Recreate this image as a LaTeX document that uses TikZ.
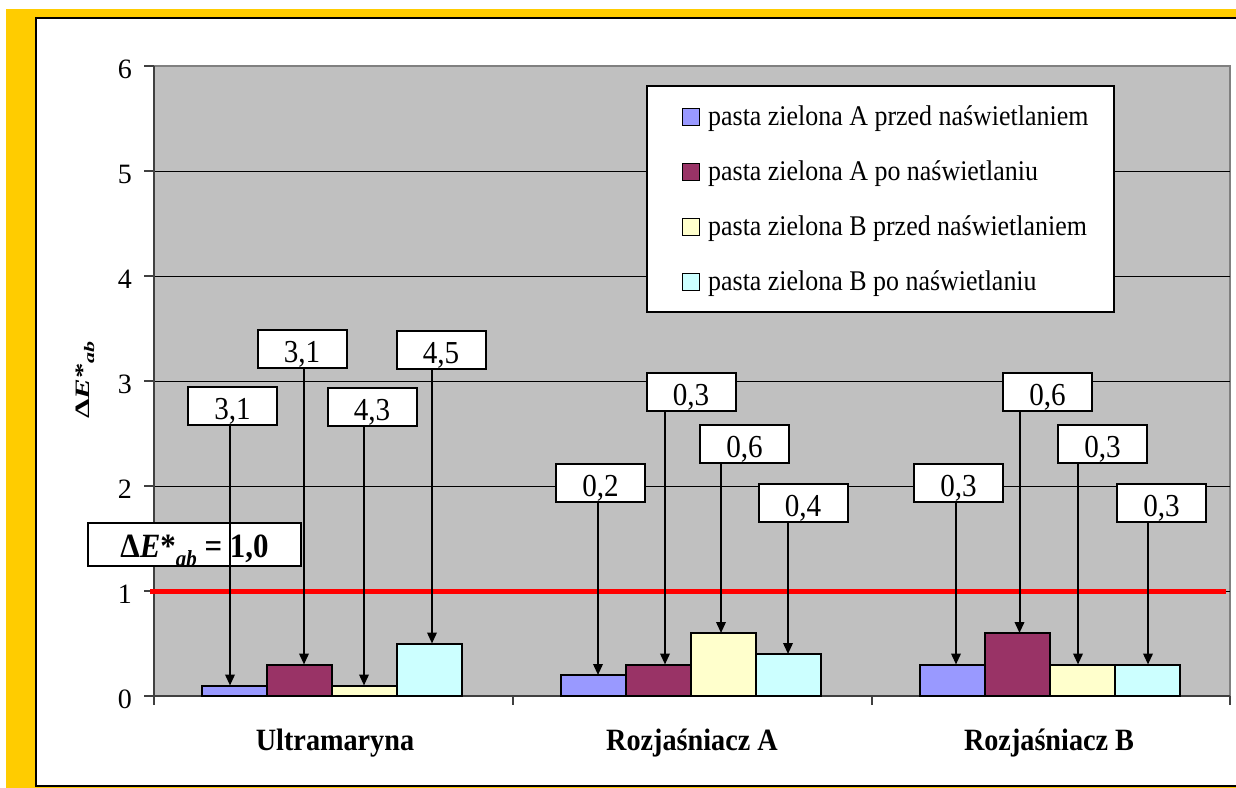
\documentclass[tikz,border=0pt]{standalone}
\usepackage{graphicx}
\usepackage{fontspec}
\setmainfont{Liberation Serif}[FakeStretch=0.91]
\newfontfamily\ytfont{Liberation Serif}
\usetikzlibrary{arrows.meta}
\definecolor{frameyellow}{HTML}{FFCC00}
\definecolor{plotgray}{HTML}{C0C0C0}
\definecolor{bordergray}{HTML}{808080}
\definecolor{axisgray}{HTML}{404040}
\definecolor{cA}{HTML}{9999FF}
\definecolor{cB}{HTML}{993366}
\definecolor{cC}{HTML}{FFFFCC}
\definecolor{cD}{HTML}{CCFFFF}
\newcommand{\setfs}[1]{\fontsize{#1}{#1}\selectfont}
\begin{document}
\begin{tikzpicture}[x=1pt,y=-1pt,
  barbox/.style={draw=black, line width=2pt, anchor=south west, minimum width=65pt, inner sep=0pt, outer sep=0pt},
  lbl/.style={draw=black, fill=white, line width=2pt, minimum width=89pt, minimum height=38pt, inner sep=0pt, outer sep=0pt, text height=27pt, text depth=0pt, font=\setfs{32}},
  arr/.style={line width=2pt, -{Triangle[width=9.5pt,length=11pt]}},
  axisline/.style={draw=axisgray, line width=1.2pt},
  ticklbl/.style={anchor=east, inner sep=0pt, font=\ytfont\setfs{28}},
  catlbl/.style={anchor=base, inner sep=0pt, font=\setfs{31}\bfseries},
  swatch/.style={draw=black, line width=1.5pt, minimum size=17pt, inner sep=0pt},
  legtxt/.style={anchor=base west, inner sep=0pt, font=\setfs{28.5}}
]
\useasboundingbox (0,0) rectangle (1236,787);
\clip (0,0) rectangle (1236,787);
% frame
\fill[frameyellow] (6,9) rectangle (1240,795);
\filldraw[fill=white, draw=black, line width=2pt] (36,18) rectangle (1250,786);
% plot area
\filldraw[fill=plotgray, draw=bordergray, line width=1.5pt] (154,66) rectangle (1230,696);
\foreach \v in {1,...,5} \draw[black, line width=1pt] (154,{696-105*\v}) -- (1230,{696-105*\v});
\foreach \v in {0,...,6} {
  \draw[axisline] (144,{696-105*\v}) -- (154,{696-105*\v});
  \node[ticklbl] (t\v) at (132,{699-105*\v}) {\v};
}
\draw[axisline] (154,66) -- (154,705);
\draw[axisline] (144,696) -- (1230,696);
\foreach \x in {513,872,1230} \draw[axisline] (\x,696) -- (\x,705);
% y title
\node[rotate=90, anchor=base, inner sep=0pt] (ytitle) at (89,380)
  {\ytfont\bfseries\setfs{31}\scalebox{1}[0.66]{Δ\textit{E}*\raisebox{-0.25em}{\setfs{22}\textit{ab}}}};
% threshold line
\draw[red, line width=5pt] (150,591) -- (1226,591);
\node[draw=black, fill=white, line width=2pt, minimum width=213pt, minimum height=43pt, inner sep=0pt,
  text height=25pt, text depth=0pt, font=\setfs{34}\bfseries] (ref) at (194.5,544.5)
  {Δ\textit{E}*\raisebox{-0.28em}{\setfs{23}\textit{ab}} = 1,0};
% bars
\node[barbox, fill=cA, minimum height=10.5pt] (u1) at (202,696) {};
\node[barbox, fill=cB, minimum height=31.5pt] (u2) at (267,696) {};
\node[barbox, fill=cC, minimum height=10.5pt] (u3) at (332,696) {};
\node[barbox, fill=cD, minimum height=52.5pt] (u4) at (397,696) {};
\node[barbox, fill=cA, minimum height=21pt] (a1) at (561,696) {};
\node[barbox, fill=cB, minimum height=31.5pt] (a2) at (626,696) {};
\node[barbox, fill=cC, minimum height=63pt] (a3) at (691,696) {};
\node[barbox, fill=cD, minimum height=42pt] (a4) at (756,696) {};
\node[barbox, fill=cA, minimum height=31.5pt] (b1) at (920,696) {};
\node[barbox, fill=cB, minimum height=63pt] (b2) at (985,696) {};
\node[barbox, fill=cC, minimum height=31.5pt] (b3) at (1050,696) {};
\node[barbox, fill=cD, minimum height=31.5pt] (b4) at (1115,696) {};
% value labels
\node[lbl] (lu1) at (232.5,405.5) {3,1};
\node[lbl] (lu2) at (302,349) {3,1};
\node[lbl] (lu3) at (372,406.5) {4,3};
\node[lbl] (lu4) at (441,350) {4,5};
\node[lbl] (la1) at (600.5,483) {0,2};
\node[lbl] (la2) at (691,392) {0,3};
\node[lbl] (la3) at (744.5,444) {0,6};
\node[lbl] (la4) at (803,502.5) {0,4};
\node[lbl] (lb1) at (958.5,483) {0,3};
\node[lbl] (lb2) at (1047.5,392) {0,6};
\node[lbl] (lb3) at (1102.5,444) {0,3};
\node[lbl] (lb4) at (1161.5,502.5) {0,3};
% arrows
\draw[arr] (lu1.south -| 230,0) -- (u1.north -| 230,0);
\draw[arr] (lu2.south -| 304,0) -- (u2.north -| 304,0);
\draw[arr] (lu3.south -| 364,0) -- (u3.north -| 364,0);
\draw[arr] (lu4.south -| 432,0) -- (u4.north -| 432,0);
\draw[arr] (la1.south -| 598,0) -- (a1.north -| 598,0);
\draw[arr] (la2.south -| 665,0) -- (a2.north -| 665,0);
\draw[arr] (la3.south -| 721,0) -- (a3.north -| 721,0);
\draw[arr] (la4.south -| 788,0) -- (a4.north -| 788,0);
\draw[arr] (lb1.south -| 956,0) -- (b1.north -| 956,0);
\draw[arr] (lb2.south -| 1019.5,0) -- (b2.north -| 1019.5,0);
\draw[arr] (lb3.south -| 1078,0) -- (b3.north -| 1078,0);
\draw[arr] (lb4.south -| 1148,0) -- (b4.north -| 1148,0);
% category labels
\node[catlbl] (cu) at (335,750.5) {Ultramaryna};
\node[catlbl] (ca) at (692,750.5) {Rozjaśniacz A};
\node[catlbl] (cb) at (1049,750.5) {Rozjaśniacz B};
% legend
\node[draw=black, fill=white, line width=1.3pt, minimum width=467pt, minimum height=226pt, inner sep=0pt] (leg) at (880.5,199) {};
\node[swatch, fill=cA] (s1) at (691,117) {};
\node[swatch, fill=cB] (s2) at (691,172) {};
\node[swatch, fill=cC] (s3) at (691,227) {};
\node[swatch, fill=cD] (s4) at (691,282) {};
\node[legtxt] (e1) at (708,125.5) {pasta zielona A przed naświetlaniem};
\node[legtxt] (e2) at (708,180.5) {pasta zielona A po naświetlaniu};
\node[legtxt] (e3) at (708,235.5) {pasta zielona B przed naświetlaniem};
\node[legtxt] (e4) at (708,290.5) {pasta zielona B po naświetlaniu};
\end{tikzpicture}
\end{document}
